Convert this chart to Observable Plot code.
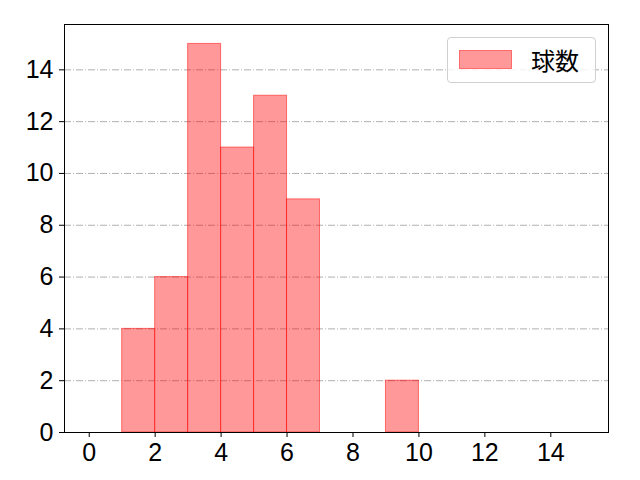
<!DOCTYPE html>
<html><head><meta charset="utf-8">
<script src="https://cdn.jsdelivr.net/npm/d3@7"></script>
<script src="https://cdn.jsdelivr.net/npm/@observablehq/plot@0.6"></script>
<style>
body{margin:0;background:#fff;}
#wrap{position:relative;width:640px;height:480px;font-family:"Noto Sans CJK JP","Noto Sans",sans-serif;}
#wrap svg text{font-family:"Liberation Sans","Noto Sans CJK JP",sans-serif;font-size:25px;fill:#000;}
#legend{position:absolute;left:447px;top:37px;width:149px;height:46px;border:1px solid #d0d0d0;border-radius:4px;background:rgba(255,255,255,0.8);box-sizing:border-box;}
#legend .sw{position:absolute;left:11px;top:12px;width:53px;height:19px;background:rgba(255,0,0,0.4);border:1px solid rgba(255,0,0,0.3);box-sizing:border-box;}
#legend .lb{position:absolute;left:83px;top:6px;font-size:24px;line-height:32px;color:#000;}
</style></head>
<body>
<div id="wrap"><div id="legend"><div class="sw"></div><div class="lb"></div></div></div>
<script>
const seriesName = "球数";
const binStart = [1, 2, 3, 4, 5, 6, 9];
const binEnd   = [2, 3, 4, 5, 6, 7, 10];
const counts   = [4, 6, 15, 11, 13, 9, 2];
const xTicks = [0, 2, 4, 6, 8, 10, 12, 14];
const yTicks = [0, 2, 4, 6, 8, 10, 12, 14];

const data = binStart.map((s, i) => ({x1: s, x2: binEnd[i], y: counts[i]}));

const chart = Plot.plot({
  width: 640, height: 480,
  marginLeft: 64, marginRight: 32, marginTop: 24, marginBottom: 48,
  style: {fontFamily: '"Liberation Sans",sans-serif', fontSize: "25px", color: "#000", background: "#fff"},
  x: {domain: [-0.75, 15.75], ticks: xTicks, tickSize: 5, tickPadding: 6, label: null},
  y: {domain: [0, 15.75], ticks: yTicks, tickSize: 5, tickPadding: 6, label: null},
  marks: [
    Plot.ruleY(yTicks.filter(d => d > 0), {stroke: "#b0b0b0", strokeWidth: 1, strokeDasharray: "7,2,1,2"}),
    Plot.rectY(data, {x1: "x1", x2: "x2", y: "y", fill: "red", fillOpacity: 0.4, stroke: "red", strokeOpacity: 0.5, strokeWidth: 1, inset: 0}),
    Plot.axisX({ticks: xTicks, tickSize: 5, tickPadding: 6, stroke: "#000", strokeOpacity: 1}),
    Plot.axisY({ticks: yTicks, tickSize: 5, tickPadding: 6, stroke: "#000", strokeOpacity: 1}),
    Plot.frame({stroke: "#000", strokeWidth: 1})
  ]
});
document.getElementById("wrap").prepend(chart);
document.querySelector("#legend .lb").textContent = seriesName;
</script>
</body></html>
